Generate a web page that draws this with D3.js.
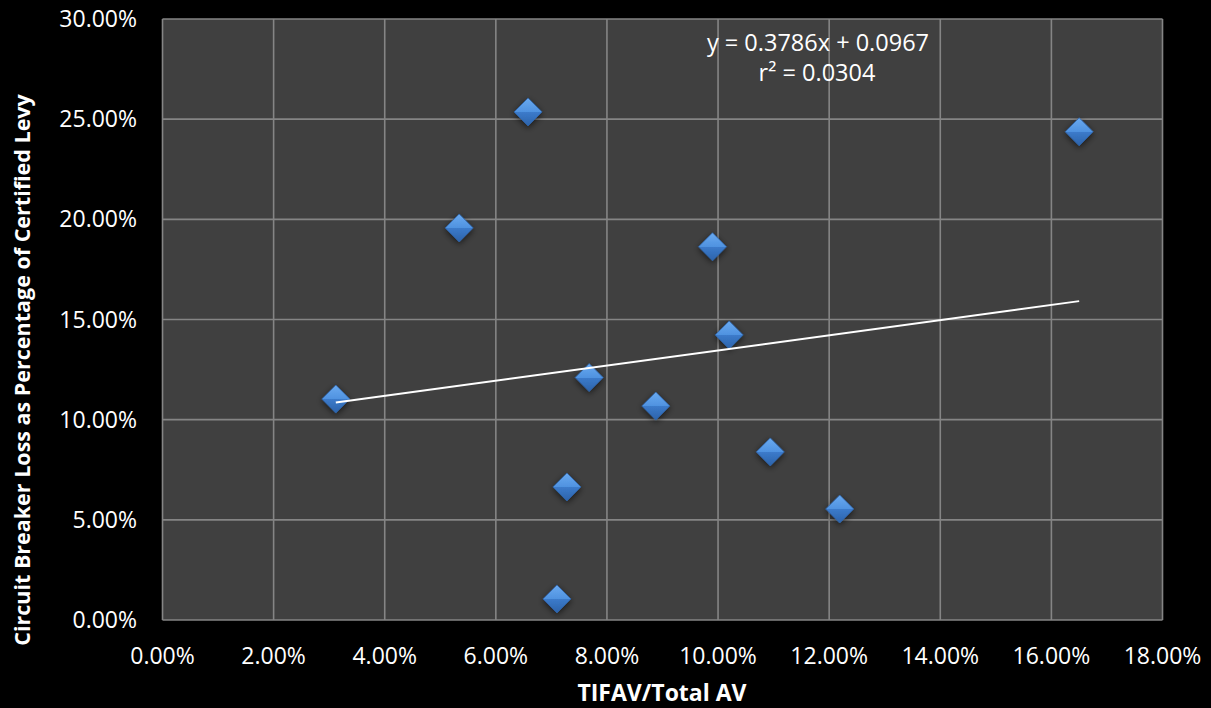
<!DOCTYPE html>
<html>
<head>
<meta charset="utf-8">
<script src="https://cdn.jsdelivr.net/npm/d3@7"></script>
<style>
  html, body { margin: 0; padding: 0; background: #000; }
  svg { display: block; }
  text { font-family: "Open Sans", "Noto Sans", sans-serif; fill: #fff; }
</style>
</head>
<body>
<div id="chart"></div>
<script>

// TIFAV / Total AV (x) and circuit breaker loss share of levy (y), as fractions
var tifavShare = [0.0312, 0.0534, 0.0658, 0.0728, 0.0710, 0.0768, 0.0888, 0.0990, 0.1020, 0.1094, 0.1219, 0.1650];
var lossShare  = [0.1103, 0.1957, 0.2536, 0.0664, 0.0105, 0.1210, 0.1068, 0.1863, 0.1423, 0.0839, 0.0554, 0.2437];

var xTicks = [0, 0.02, 0.04, 0.06, 0.08, 0.10, 0.12, 0.14, 0.16, 0.18];
var yTicks = [0, 0.05, 0.10, 0.15, 0.20, 0.25, 0.30];

var trendSlope = 0.3786;
var trendIntercept = 0.0967;
var trendLabel = "y = 0.3786x + 0.0967";
var r2Label = "r\u00b2 = 0.0304";

var width = 1211, height = 708;
var margin = {top: 19, right: 48.5, bottom: 88, left: 162.5};

var svg = d3.select('#chart')
    .append('svg')
    .attr('width', width)
    .attr('height', height);

var defs = svg.append('defs');
var grad = defs.append('linearGradient')
    .attr('id', 'diamondFill')
    .attr('x1', 0).attr('y1', 0).attr('x2', 0).attr('y2', 1);
grad.append('stop').attr('offset', '0%').attr('stop-color', '#6aaaf0');
grad.append('stop').attr('offset', '50%').attr('stop-color', '#4f92e0');
grad.append('stop').attr('offset', '50%').attr('stop-color', '#3c7bcb');
grad.append('stop').attr('offset', '100%').attr('stop-color', '#2c63aa');

var shadow = defs.append('filter')
    .attr('id', 'shadow')
    .attr('x', '-60%').attr('y', '-60%').attr('width', '220%').attr('height', '220%');
shadow.append('feGaussianBlur').attr('in', 'SourceAlpha').attr('stdDeviation', 3);
shadow.append('feOffset').attr('dx', 0).attr('dy', 2).attr('result', 'blur');
shadow.append('feComponentTransfer').append('feFuncA').attr('type', 'linear').attr('slope', 0.6);
var merge = shadow.append('feMerge');
merge.append('feMergeNode');
merge.append('feMergeNode').attr('in', 'SourceGraphic');

var innerW = width - margin.left - margin.right;
var innerH = height - margin.top - margin.bottom;

var x = d3.scaleLinear().domain([0, 0.18]).range([margin.left, margin.left + innerW]);
var y = d3.scaleLinear().domain([0, 0.30]).range([margin.top + innerH, margin.top]);

var pct = d3.format('.2%');

// plot area
svg.append('rect')
    .attr('x', x(0)).attr('y', y(0.30))
    .attr('width', x(0.18) - x(0)).attr('height', y(0) - y(0.30))
    .attr('fill', '#404040');

// grid
svg.append('g')
    .selectAll('line.v')
    .data(xTicks)
    .enter()
    .append('line')
    .attr('x1', function(d) { return x(d); })
    .attr('x2', function(d) { return x(d); })
    .attr('y1', y(0)).attr('y2', y(0.30))
    .attr('stroke', '#858585')
    .attr('stroke-width', 1.6);

svg.append('g')
    .selectAll('line.h')
    .data(yTicks)
    .enter()
    .append('line')
    .attr('y1', function(d) { return y(d); })
    .attr('y2', function(d) { return y(d); })
    .attr('x1', x(0)).attr('x2', x(0.18))
    .attr('stroke', '#858585')
    .attr('stroke-width', 1.6);

// tick labels
svg.append('g')
    .selectAll('text')
    .data(xTicks)
    .enter()
    .append('text')
    .attr('x', function(d) { return x(d); })
    .attr('y', 664)
    .attr('text-anchor', 'middle')
    .style('font-size', '23px')
    .text(function(d) { return pct(d); });

svg.append('g')
    .selectAll('text')
    .data(yTicks)
    .enter()
    .append('text')
    .attr('x', 137)
    .attr('y', function(d) { return y(d) + 8; })
    .attr('text-anchor', 'end')
    .style('font-size', '23px')
    .text(function(d) { return pct(d); });

// axis titles
svg.append('text')
    .attr('x', 662)
    .attr('y', 701)
    .attr('text-anchor', 'middle')
    .style('font-size', '23px')
    .style('font-weight', 'bold')
    .text('TIFAV/Total AV');

svg.append('text')
    .attr('transform', 'translate(30,370) rotate(-90)')
    .attr('text-anchor', 'middle')
    .style('font-size', '21.5px')
    .style('font-weight', 'bold')
    .text('Circuit Breaker Loss as Percentage of Certified Levy');

// markers
var points = tifavShare.map(function(v, i) { return {x: v, y: lossShare[i]}; });
var half = 14;

svg.append('g')
    .selectAll('path')
    .data(points)
    .enter()
    .append('path')
    .attr('d', function(d) {
        var cx = x(d.x), cy = y(d.y);
        return 'M' + cx + ',' + (cy - half) + 'L' + (cx + half) + ',' + cy +
               'L' + cx + ',' + (cy + half) + 'L' + (cx - half) + ',' + cy + 'Z';
    })
    .attr('fill', 'url(#diamondFill)')
    .attr('stroke', '#2f63a8')
    .attr('stroke-width', 0.8)
    .attr('filter', 'url(#shadow)');

// trendline
var xMin = d3.min(tifavShare), xMax = d3.max(tifavShare);
svg.append('line')
    .attr('x1', x(xMin)).attr('y1', y(trendSlope * xMin + trendIntercept))
    .attr('x2', x(xMax)).attr('y2', y(trendSlope * xMax + trendIntercept))
    .attr('stroke', '#fff')
    .attr('stroke-width', 2);

// equation
svg.append('text')
    .attr('x', 818).attr('y', 51)
    .attr('text-anchor', 'middle')
    .style('font-size', '23.5px')
    .text(trendLabel);

svg.append('text')
    .attr('x', 817).attr('y', 81)
    .attr('text-anchor', 'middle')
    .style('font-size', '23.5px')
    .text(r2Label);

</script>
</body>
</html>
